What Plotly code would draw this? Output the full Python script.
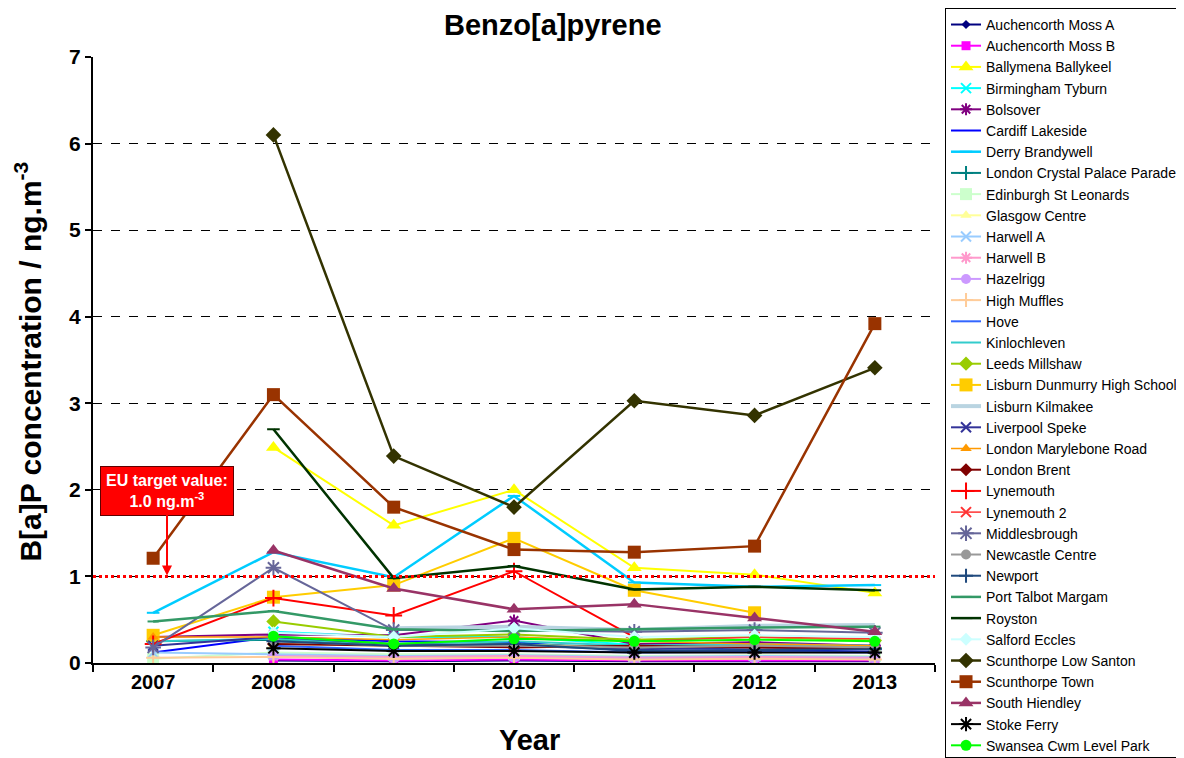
import plotly.graph_objects as go

# ---------------- data ----------------
years = ['2007', '2008', '2009', '2010', '2011', '2012', '2013']
N = None

auchencorth_moss_a = [N, 0.03, 0.02, 0.03, 0.02, 0.02, 0.02]
auchencorth_moss_b = [N, 0.04, 0.03, 0.04, 0.03, 0.03, 0.03]
ballymena_ballykeel = [N, 2.49, 1.59, 2.00, 1.10, 1.02, 0.81]
birmingham_tyburn = [N, 0.36, 0.30, 0.30, 0.21, 0.22, 0.20]
bolsover = [0.30, 0.33, 0.32, 0.49, 0.22, 0.24, 0.20]
cardiff_lakeside = [0.12, 0.30, 0.25, 0.24, 0.14, 0.15, 0.13]
derry_brandywell = [0.58, 1.28, 0.99, 1.93, 0.93, 0.88, 0.90]
london_crystal_palace = [0.25, 0.27, 0.20, 0.22, 0.18, 0.20, 0.17]
edinburgh_st_leonards = [0.05, 0.12, 0.10, 0.10, 0.08, 0.09, 0.08]
glasgow_centre = [N, 0.22, 0.20, 0.21, 0.18, 0.19, 0.17]
harwell_a = [0.12, 0.10, 0.08, 0.09, 0.07, 0.08, 0.07]
harwell_b = [N, 0.08, 0.07, 0.08, 0.06, 0.07, 0.06]
hazelrigg = [N, 0.08, 0.05, 0.06, 0.05, 0.05, 0.05]
high_muffles = [0.06, 0.07, 0.05, 0.06, 0.04, 0.05, 0.04]
hove = [N, 0.20, 0.15, 0.15, 0.12, 0.13, 0.12]
kinlochleven = [0.25, 0.28, 0.22, 0.25, 0.20, 0.22, 0.20]
leeds_millshaw = [N, 0.48, 0.30, 0.33, 0.27, 0.30, 0.26]
lisburn_dunmurry = [0.32, 0.76, 0.90, 1.44, 0.84, 0.58, N]
lisburn_kilmakee = [N, N, 0.40, 0.42, 0.38, 0.43, 0.44]
liverpool_speke = [0.20, 0.30, 0.22, 0.20, 0.16, 0.18, 0.16]
london_marylebone = [0.30, 0.30, 0.27, 0.30, 0.25, 0.22, 0.20]
london_brent = [N, 0.22, 0.20, 0.18, 0.20, 0.18, 0.17]
lynemouth = [0.22, 0.75, 0.55, 1.06, 0.30, N, N]
lynemouth_2 = [N, N, N, N, 0.25, 0.30, 0.28]
middlesbrough = [0.18, 1.10, 0.38, 0.38, 0.36, 0.38, 0.35]
newcastle_centre = [N, 0.25, 0.20, 0.20, 0.18, 0.20, 0.18]
newport = [N, 0.25, 0.20, 0.22, 0.14, 0.15, 0.16]
port_talbot_margam = [0.48, 0.60, 0.39, 0.37, 0.39, 0.41, 0.42]
royston = [N, 2.70, 0.98, 1.12, 0.85, 0.88, 0.84]
salford_eccles = [N, 0.35, 0.30, 0.40, 0.30, 0.32, 0.30]
scunthorpe_low_santon = [N, 6.10, 2.39, 1.80, 3.03, 2.86, 3.41]
scunthorpe_town = [1.21, 3.10, 1.80, 1.31, 1.28, 1.35, 3.92]
south_hiendley = [N, 1.30, 0.86, 0.62, 0.68, 0.52, 0.36]
stoke_ferry = [N, 0.17, 0.14, 0.14, 0.12, 0.12, 0.12]
swansea_cwm_level_park = [N, 0.31, 0.22, 0.28, 0.25, 0.27, 0.25]

eu_target = 1.0

# ---------------- series (name, values) + styles ----------------
series = [
    ("Auchencorth Moss A", auchencorth_moss_a),
    ("Auchencorth Moss B", auchencorth_moss_b),
    ("Ballymena Ballykeel", ballymena_ballykeel),
    ("Birmingham Tyburn", birmingham_tyburn),
    ("Bolsover", bolsover),
    ("Cardiff Lakeside", cardiff_lakeside),
    ("Derry Brandywell", derry_brandywell),
    ("London Crystal Palace Parade", london_crystal_palace),
    ("Edinburgh St Leonards", edinburgh_st_leonards),
    ("Glasgow Centre", glasgow_centre),
    ("Harwell A", harwell_a),
    ("Harwell B", harwell_b),
    ("Hazelrigg", hazelrigg),
    ("High Muffles", high_muffles),
    ("Hove", hove),
    ("Kinlochleven", kinlochleven),
    ("Leeds Millshaw", leeds_millshaw),
    ("Lisburn Dunmurry High School", lisburn_dunmurry),
    ("Lisburn Kilmakee", lisburn_kilmakee),
    ("Liverpool Speke", liverpool_speke),
    ("London Marylebone Road", london_marylebone),
    ("London Brent", london_brent),
    ("Lynemouth", lynemouth),
    ("Lynemouth 2", lynemouth_2),
    ("Middlesbrough", middlesbrough),
    ("Newcastle Centre", newcastle_centre),
    ("Newport", newport),
    ("Port Talbot Margam", port_talbot_margam),
    ("Royston", royston),
    ("Salford Eccles", salford_eccles),
    ("Scunthorpe Low Santon", scunthorpe_low_santon),
    ("Scunthorpe Town", scunthorpe_town),
    ("South Hiendley", south_hiendley),
    ("Stoke Ferry", stoke_ferry),
    ("Swansea Cwm Level Park", swansea_cwm_level_park),
]

# colour, marker symbol, marker size, line width
styles = {
    "Auchencorth Moss A": ("#000080", "diamond", 7, 2),
    "Auchencorth Moss B": ("#ff00ff", "square", 9, 2),
    "Ballymena Ballykeel": ("#ffff00", "triangle-up", 13, 2),
    "Birmingham Tyburn": ("#00ffff", "x-thin-open", 10, 2),
    "Bolsover": ("#800080", "asterisk-open", 10, 2),
    "Cardiff Lakeside": ("#0000ff", None, 0, 2),
    "Derry Brandywell": ("#00ccff", "line-ew-open", 9, 2.5),
    "London Crystal Palace Parade": ("#008080", "cross-thin-open", 10, 2),
    "Edinburgh St Leonards": ("#ccffcc", "square", 12, 2),
    "Glasgow Centre": ("#ffff99", "triangle-up", 10, 2),
    "Harwell A": ("#99ccff", "x-thin-open", 10, 2),
    "Harwell B": ("#ff99cc", "asterisk-open", 10, 2),
    "Hazelrigg": ("#cc99ff", "circle", 10, 2),
    "High Muffles": ("#ffcc99", "cross-thin-open", 10, 2),
    "Hove": ("#3366ff", None, 0, 2),
    "Kinlochleven": ("#33cccc", None, 0, 2),
    "Leeds Millshaw": ("#99cc00", "diamond", 11, 2),
    "Lisburn Dunmurry High School": ("#ffcc00", "square", 13, 2),
    "Lisburn Kilmakee": ("#b9d4e1", None, 0, 4),
    "Liverpool Speke": ("#333399", "x-thin-open", 10, 2),
    "London Marylebone Road": ("#ff9900", "triangle-up", 10, 1.5),
    "London Brent": ("#800000", "diamond", 10, 2),
    "Lynemouth": ("#ff0000", "cross-thin-open", 12, 2),
    "Lynemouth 2": ("#ff3333", "x-thin-open", 10, 1.5),
    "Middlesbrough": ("#666699", "asterisk-open", 13, 2),
    "Newcastle Centre": ("#999999", "circle", 10, 2),
    "Newport": ("#1f497d", "cross-thin-open", 10, 2),
    "Port Talbot Margam": ("#339966", "line-ew-open", 8, 2.5),
    "Royston": ("#003300", "line-ew-open", 9, 2.5),
    "Salford Eccles": ("#ccffff", "diamond", 10, 2),
    "Scunthorpe Low Santon": ("#333300", "diamond", 12, 2.5),
    "Scunthorpe Town": ("#993300", "square", 13, 2.5),
    "South Hiendley": ("#993366", "triangle-up", 13, 2.5),
    "Stoke Ferry": ("#000000", "asterisk-open", 12, 2),
    "Swansea Cwm Level Park": ("#00ff00", "circle", 11, 2),
}

FONT = "Liberation Sans, Arial, sans-serif"

fig = go.Figure()
for i, (name, vals) in enumerate(series):
    color, sym, msize, lw = styles[name]
    marker = dict(color=color, size=msize)
    if sym is not None:
        marker["symbol"] = sym
        if sym.endswith("-open"):
            marker["line"] = dict(color=color, width=2)
    fig.add_trace(go.Scatter(
        x=years, y=vals, name=name, legendgroup=f"g{i}",
        mode="lines+markers" if sym is not None else "lines",
        line=dict(color=color, width=lw),
        marker=marker,
        connectgaps=False,
    ))

# EU target value line
fig.add_shape(type="line", xref="paper", x0=0, x1=1, yref="y", y0=eu_target, y1=eu_target,
              line=dict(color="#ff0000", width=3, dash="dot"), layer="above")

fig.add_annotation(
    xref="paper", x=0.0879, yref="y", y=eu_target + 0.01,
    text="<b>EU target value:<br>1.0 ng.m<sup>-3</sup></b>",
    showarrow=True, ax=0, ay=-85, arrowcolor="#ff0000", arrowwidth=2, arrowhead=2, arrowsize=1,
    bgcolor="#ff0000", bordercolor="#600000", borderwidth=1, borderpad=5,
    font=dict(family=FONT, size=16, color="white"), align="center",
)

# title / axis titles
fig.add_annotation(xref="paper", yref="paper", x=0.546, y=1.053, text="<b>Benzo[a]pyrene</b>",
                   showarrow=False, font=dict(family=FONT, size=29, color="black"),
                   xanchor="center", yanchor="middle")
fig.add_annotation(xref="paper", yref="paper", x=-0.0775, y=0.497,
                   text="<b>B[a]P concentration / ng.m<sup>-3</sup></b>", textangle=-90,
                   showarrow=False, font=dict(family=FONT, size=30, color="black"),
                   xanchor="center", yanchor="middle")
fig.add_annotation(xref="paper", yref="paper", x=0.519, y=-0.127, text="<b>Year</b>",
                   showarrow=False, font=dict(family=FONT, size=29, color="black"),
                   xanchor="center", yanchor="middle")

# page body has an 8px margin, so the figure is drawn 8px smaller and offset
fig.update_layout(
    width=1176, height=750,
    margin=dict(l=85, r=249, t=49, b=95, autoexpand=False),
    paper_bgcolor="white", plot_bgcolor="white",
    font=dict(family=FONT, color="black"),
    showlegend=True,
    legend=dict(
        x=1.0119, xanchor="left", y=1.081, yanchor="top",
        font=dict(family=FONT, size=14, color="black"),
        bordercolor="black", borderwidth=1, bgcolor="white",
        traceorder="grouped", tracegroupgap=0,
        itemwidth=30, maxheight=750,
    ),
)

fig.update_xaxes(
    type="category", range=[-0.5, 6.5], tickson="boundaries",
    showline=True, linecolor="black", linewidth=2,
    ticks="outside", ticklen=7, tickwidth=2, tickcolor="black",
    tickfont=dict(family=FONT, size=20, color="black"), showgrid=False,
    tickprefix="<b>", ticksuffix="</b>",
)
fig.update_yaxes(
    range=[0, 7], dtick=1, tick0=0,
    showline=True, linecolor="black", linewidth=2,
    ticks="outside", ticklen=6, tickwidth=2, tickcolor="black",
    tickfont=dict(family=FONT, size=21, color="black"),
    tickprefix="<b>", ticksuffix="</b>",
    showgrid=True, gridcolor="black", gridwidth=1, griddash="dash",
    zeroline=False,
)

fig.write_html("out.html")
